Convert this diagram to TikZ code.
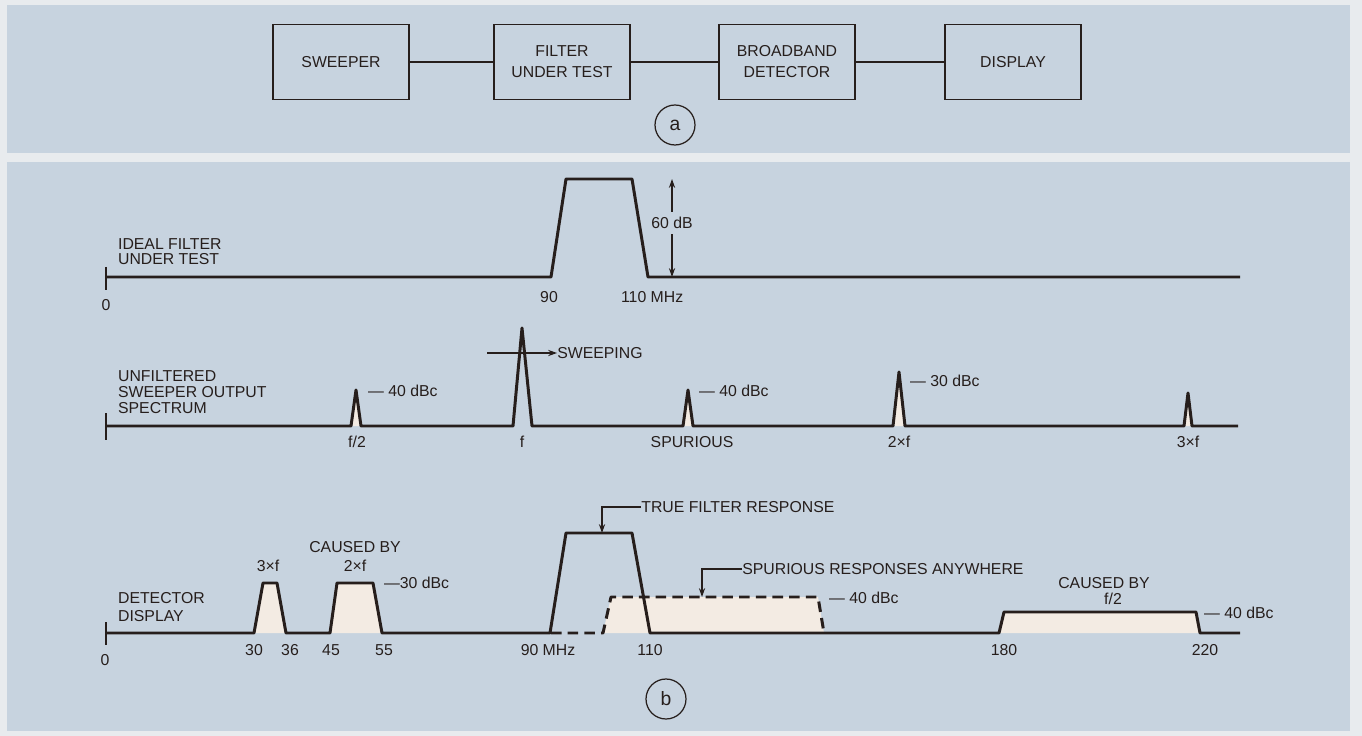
\documentclass[tikz,border=0pt]{standalone}
\usepackage{fontspec}
\setmainfont{Liberation Sans}
\usepackage{tikz}
\usetikzlibrary{arrows.meta}
\definecolor{paper}{RGB}{232,235,238}
\definecolor{panel}{RGB}{199,211,223}
\definecolor{ink}{RGB}{38,30,28}
\definecolor{cream}{RGB}{243,235,227}
\tikzset{
  blockbox/.style={draw=ink, line width=1.1pt, minimum width=2.72cm, minimum height=1.5cm,
    align=center, text=ink, font=\fontsize{9}{12}\selectfont},
  wire/.style={draw=ink, line width=0.9pt},
  trace/.style={draw=ink, line width=1.7pt, line join=round},
  spurtrace/.style={trace, dash pattern=on 6pt off 3.5pt},
  lbl/.style={text=ink, inner sep=1pt, font=\fontsize{9}{9.5}\selectfont},
  tag/.style={draw=ink, circle, line width=0.7pt, minimum size=0.8cm, inner sep=0pt,
    text=ink, font=\fontsize{11}{11}\selectfont},
  pointer/.style={draw=ink, line width=0.8pt, -{Stealth[length=5pt,width=3.5pt]}},
}

\begin{document}
\begin{tikzpicture}[x=0.02cm, y=-0.02cm]
  % --- background and the two panels ---
  \fill[paper] (0,0) rectangle (1362,736);
  \fill[panel] (7,5) rectangle (1350,153);
  \fill[panel] (7,162) rectangle (1350,731);

  % --- (a) test set-up ---
  \node[blockbox] (sweeper) at (341,62) {SWEEPER};
  \node[blockbox] (filter) at (562,62) {FILTER\\UNDER TEST};
  \node[blockbox] (detector) at (787,62) {BROADBAND\\DETECTOR};
  \node[blockbox] (display) at (1013,62) {DISPLAY};
  \draw[wire] (sweeper) -- (filter);
  \draw[wire] (filter) -- (detector);
  \draw[wire] (detector) -- (display);
  \node[tag] (taga) at (675,125) {a};

  % --- (b) row 1: ideal filter under test ---
  \node[lbl, anchor=west, align=left, font=\fontsize{9}{8.6}\selectfont] (idealtxt) at (116,252) {IDEAL FILTER\\UNDER TEST};
  \draw[ink, line width=1pt] (106,267) -- (106,290);
  \draw[trace] (106,277) -- (551,277) -- (566,179) -- (632,179) -- (648,277) -- (1240,277);
  \node[lbl] (zeroa) at (106,305) {0};
  \node[lbl] (ninety) at (549,297) {90};
  \node[lbl, anchor=west] (onetena) at (619,297) {110 MHz};
  % 60 dB span, label sits on the arrow
  \node[lbl, inner sep=3pt] (sixty) at (672,223) {60 dB};
  \coordinate (passtop) at (672,179);
  \coordinate (passbot) at (672,277);
  \draw[pointer] (sixty.north) -- (passtop);
  \draw[pointer] (sixty.south) -- (passbot);

  % --- (b) row 2: unfiltered sweeper output ---
  \node[lbl, anchor=west, align=left, font=\fontsize{9}{9.2}\selectfont] (sweeptxt) at (116,392) {UNFILTERED\\SWEEPER OUTPUT\\SPECTRUM};
  \draw[ink, line width=1pt] (106,413) -- (106,440);
  \fill[cream] (351,426) -- (356,392) -- (361,426) -- cycle;
  \fill[cream] (683,426) -- (688,392) -- (693,426) -- cycle;
  \fill[cream] (893,426) -- (899,374) -- (905,426) -- cycle;
  \fill[cream] (1184,426) -- (1188,395) -- (1192,426) -- cycle;
  \draw[trace] (106,426) -- (351,426) -- (356,390) -- (361,426)
    -- (513,426) -- (522,328) -- (532,426)
    -- (683,426) -- (688,390) -- (693,426)
    -- (893,426) -- (899,372) -- (905,426)
    -- (1184,426) -- (1188,393) -- (1192,426) -- (1238,426);
  \node[lbl] (fhalf) at (357,442) {f/2};
  \node[lbl] (fone) at (522,442) {f};
  \node[lbl] (spurtxt) at (692,442) {SPURIOUS};
  \node[lbl] (ftwo) at (899,442) {2×f};
  \node[lbl] (fthree) at (1188,442) {3×f};
  \node[lbl, anchor=west] (dbhalf) at (366,391) {— 40 dBc};
  \node[lbl, anchor=west] (dbspur) at (697,391) {— 40 dBc};
  \node[lbl, anchor=west] (dbtwo) at (908,381) {— 30 dBc};
  \coordinate (swpstart) at (487,353);
  \node[lbl, anchor=west, inner sep=0pt] (swptxt) at (557,353) {SWEEPING};
  \draw[pointer] (swpstart) -- (swptxt.west);

  % --- (b) row 3: detector display ---
  \node[lbl, anchor=west, align=left, font=\fontsize{9}{10.2}\selectfont] (dettxt) at (116,607) {DETECTOR\\DISPLAY};
  \draw[ink, line width=1pt] (106,622) -- (106,645);
  % cream areas under the responses
  \fill[cream] (254,633) -- (263,583) -- (277,583) -- (286,633) -- cycle;
  \fill[cream] (330,633) -- (337,583) -- (373,583) -- (382,633) -- cycle;
  \fill[cream] (603,633) -- (611,597) -- (818,597) -- (824,633) -- cycle;
  \fill[cream] (999,633) -- (1004,612) -- (1196,612) -- (1200,633) -- cycle;
  % spurious responses (dashed)
  \draw[spurtrace] (551,633) -- (603,633) -- (611,597) -- (818,597) -- (824,633);
  % true response and images
  \draw[trace] (106,633) -- (254,633) -- (263,583) -- (277,583) -- (286,633)
    -- (330,633) -- (337,583) -- (373,583) -- (382,633)
    -- (550,633) -- (566,533) -- (632,533) -- (650,633)
    -- (999,633) -- (1004,612) -- (1196,612) -- (1200,633) -- (1240,633);
  \node[lbl] (zerob) at (105,660) {0};
  \node[lbl] (thirty) at (254,650) {30};
  \node[lbl] (thirtysix) at (290,650) {36};
  \node[lbl] (fortyfive) at (331,650) {45};
  \node[lbl] (fiftyfive) at (384,650) {55};
  \node[lbl] (ninetyb) at (548,650) {90 MHz};
  \node[lbl] (onetenb) at (650,650) {110};
  \node[lbl] (oneeighty) at (1004,650) {180};
  \node[lbl] (twotwenty) at (1205,650) {220};
  \node[lbl] (threef) at (268,566) {3×f};
  \node[lbl] (causedtwo) at (355,547) {CAUSED BY};
  \node[lbl] (twof) at (355,566) {2×f};
  \node[lbl, anchor=west] (dbimg) at (382,583) {—30 dBc};
  \node[lbl, anchor=west] (dbdash) at (827,598) {— 40 dBc};
  \node[lbl] (causedhalf) at (1104,583) {CAUSED BY};
  \node[lbl] (halff) at (1113,599) {f/2};
  \node[lbl, anchor=west] (dbwide) at (1202,613) {— 40 dBc};
  % pointers to the two responses
  \node[lbl, anchor=west, inner sep=0pt] (truetxt) at (641,507) {TRUE FILTER RESPONSE};
  \coordinate (truetop) at (602,533);
  \draw[pointer] (truetxt.west) -| (truetop);
  \node[lbl, anchor=west, inner sep=0pt] (anytxt) at (742,569) {SPURIOUS RESPONSES ANYWHERE};
  \coordinate (anytop) at (702,597);
  \draw[pointer] (anytxt.west) -| (anytop);
  \node[tag] (tagb) at (666,699) {b};
\end{tikzpicture}
\end{document}
